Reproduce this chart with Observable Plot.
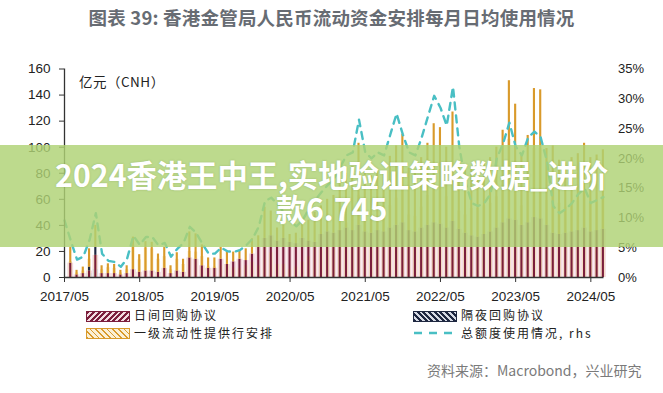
<!DOCTYPE html>
<html><head><meta charset="utf-8">
<script src="https://cdn.jsdelivr.net/npm/d3@7"></script>
<script src="https://cdn.jsdelivr.net/npm/@observablehq/plot@0.6"></script>
<style>
body{margin:0;background:#fff;}
#wrap{position:relative;width:663px;height:393px;overflow:hidden;background:#fff;}
#title{position:absolute;left:0;top:4px;width:663px;text-align:center;font:700 18.5px "Noto Sans CJK SC",sans-serif;color:#676c73;letter-spacing:0.2px;}
#chart{position:absolute;left:0;top:0;}
#unit{position:absolute;left:79px;top:71px;font:13.5px "Noto Sans CJK SC",sans-serif;color:#222;letter-spacing:0.5px;}
.lg{position:absolute;font:12px "Noto Sans CJK SC",sans-serif;color:#222;letter-spacing:2px;line-height:12px;height:12px;white-space:nowrap;}
.sw{position:absolute;width:42px;height:9px;}
#src{position:absolute;left:427px;top:360px;font:14px "Noto Sans CJK SC",sans-serif;color:#7a7a7a;white-space:nowrap;}
#banner{position:absolute;left:0;top:145px;width:663px;height:102px;background:rgba(174,210,116,0.82);}
#btext{position:absolute;left:-2px;top:157px;width:667px;text-align:center;font:700 30.3px "Noto Sans CJK SC",sans-serif;color:#fff;line-height:34px;text-shadow:0 0 2px rgba(90,120,50,0.35);}
</style></head>
<body><div id="wrap">
<div id="title">图表 39: 香港金管局人民币流动资金安排每月日均使用情况</div>
<div id="chart"></div>
<div id="unit">亿元（CNH）</div>
<div class="sw" style="left:86px;top:311px;background:repeating-linear-gradient(135deg,#7b1e3c 0 2px,#f3dbe0 2px 4px);border:1px solid #7b1e3c;"></div>
<div class="lg" style="left:134px;top:309px;">日间回购协议</div>
<div class="sw" style="left:413px;top:311px;background:repeating-linear-gradient(45deg,#1e2740 0 2px,#d6dae4 2px 4px);border:1px solid #1e2740;"></div>
<div class="lg" style="left:461px;top:309px;">隔夜回购协议</div>
<div class="sw" style="left:86px;top:328px;background:repeating-linear-gradient(45deg,#d99a2b 0 1px,#fbf0d6 1px 4px),#fbf0d6;border:1px solid #d99a2b;"></div>
<div class="lg" style="left:134px;top:327px;">一级流动性提供行安排</div>
<svg style="position:absolute;left:413px;top:328px" width="46" height="10"><line x1="1" y1="5" x2="45" y2="5" stroke="#49bfc4" stroke-width="2.5" stroke-dasharray="8,7"/></svg>
<div class="lg" style="left:461px;top:327px;">总额度使用情况, rhs</div>
<div id="src">资料来源：Macrobond，兴业研究</div>
<div id="banner"></div>
<div id="btext">2024香港王中王,实地验证策略数据_进阶<br>款6.745</div>
</div>
<script>
// month index 0 = 2017/05 ... 86 = 2024/07
const seriesNames = ["日间回购协议", "隔夜回购协议", "一级流动性提供行安排"];
const tickIdx = [0, 12, 24, 36, 48, 60, 72, 84];
const tickLabels = ["2017/05","2018/05","2019/05","2020/05","2021/05","2022/05","2023/05","2024/05"];
const leftTicks = [0, 20, 40, 60, 80, 100, 120, 140, 160];
const pctTicks = [0, 5, 10, 15, 20, 25, 30, 35];
const pctLabels = ["0%","5%","10%","15%","20%","25%","30%","35%"];

// 日间回购协议 (亿元)
const intraday = [0,11,2,3,5,17,3,3,3,2,3,6,4,5,5,4,7,3,5,4,15,14,9,7,7,14,10,12,14,13,18,23,30,32,28,30,27,26,30,28,27,33,35,34,36,38,36,40,35,34,36,35,38,40,42,36,35,38,40,42,41,38,43,37,34,32,31,33,35,38,42,45,44,40,42,46,45,40,34,33,34,35,36,38,35,36,37];
// 隔夜回购协议 (亿元)
const overnight = [0,0,0,0,3,6,0,0,0,0,0,0,0,0,0,0,0,0,0,0,0,0,0,0,0,0,0,0,0,0,0,0,0,0,0,0,0,0,0,0,0,0,0,0,0,0,0,0,0,0,0,0,0,0,0,0,0,0,0,0,0,0,0,0,0,0,0,0,0,0,0,0,0,0,0,0,0,0,0,0,0,0,0,0,0,0,0];
// 一级流动性提供行安排 (亿元)
const primary = [0,12,3.5,5,14,17,6,7.5,7,3.5,6,25,13.5,22.5,22,14,16,6,14,10,20,19.5,16,8,8,9,10,7.5,7,9,11.7,9,24,19,10,10,6,8,12,16,23,22,25,29,36,42,49,63,47,44,46,45,55,61,68,48,47,54,63,76,74,62,84,51,48,53,53,55,57,62,71,106,89,55,67,99,99,59,67,57,54,57,59,65,57,58,61];
// 总额度使用情况 (%, rhs)
const usagePct = [9.6,6.2,3.0,3.5,6.3,10.8,4.0,2.8,2.6,1.8,3.2,7.0,5.5,6.8,6.8,5.4,5.8,3.5,4.8,5.8,8.5,7.5,5.7,4.0,4.0,5.0,4.4,4.3,4.6,5.4,6.5,8.5,12.8,13.4,12.3,11.0,9.5,8.6,9.6,11.5,13.0,14.3,15.5,16.5,18.5,20.5,21.0,26.5,21.0,20.0,21.0,20.5,24.0,27.5,24.0,21.0,20.5,23.5,27.0,30.5,28.5,25.5,32.0,22.0,16.0,12.5,12.0,12.5,14.0,20.0,22.5,26.0,22.0,20.5,23.5,24.5,23.5,19.5,12.0,10.8,11.5,12.5,14.0,15.0,12.5,13.0,13.5];

const valuesBySeries = [intraday, overnight, primary];
const dark = {"日间回购协议": "#7b1e3c", "隔夜回购协议": "#1e2740", "一级流动性提供行安排": "#d99a2b"};
const light = {"日间回购协议": "#f3d8de", "隔夜回购协议": "#cfd3de", "一级流动性提供行安排": "#f7e3b4"};
const halfWide = {"日间回购协议": 0.46, "隔夜回购协议": 0.4, "一级流动性提供行安排": 0.26};

const table = [];
for (let i = 1; i < intraday.length; i++) {
  seriesNames.forEach((s, k) => table.push({i, s, v: valuesBySeries[k][i]}));
}
const lineData = usagePct.map((p, i) => ({i, p}));
const k = 160 / 35;

const plot = Plot.plot({
  width: 663, height: 310,
  marginLeft: 64, marginRight: 59.5, marginTop: 68.5, marginBottom: 33,
  style: {fontFamily: "Liberation Sans, Arial, sans-serif", fontSize: "13px", color: "#222", background: "transparent"},
  x: {type: "linear", domain: [0, 86.1], axis: null, label: null},
  y: {domain: [0, 160], axis: null, label: null},
  color: {type: "identity"},
  marks: [
    Plot.rectY(table, Plot.stackY({x1: d => d.i - halfWide[d.s], x2: d => d.i + halfWide[d.s], y: "v", z: "s", order: seriesNames, fill: d => light[d.s]})),
    Plot.rectY(table, Plot.stackY({x1: d => d.i - 0.17, x2: d => d.i + 0.17, y: "v", z: "s", order: seriesNames, fill: d => dark[d.s]})),
    Plot.line(lineData, {x: "i", y: d => d.p * k, stroke: "#49bfc4", strokeWidth: 2.4, strokeDasharray: "7,6"}),
    Plot.ruleX([0], {stroke: "#333", strokeWidth: 1.3}),
    Plot.ruleY([0], {stroke: "#333", strokeWidth: 1.3}),
    Plot.axisY(leftTicks, {anchor: "left", label: null, tickSize: 5, tickPadding: 9, stroke: "#333", fontSize: 13.5}),
    Plot.axisY(pctTicks.map(p => p * k), {anchor: "right", label: null, tickSize: 0, tickPadding: 14, fontSize: 13,
      tickFormat: d => pctLabels[pctTicks.findIndex(p => Math.abs(p * k - d) < 1e-6)]}),
    Plot.axisX(tickIdx, {anchor: "bottom", label: null, tickSize: 5, tickPadding: 9, stroke: "#333", fontSize: 13.5,
      tickFormat: d => tickLabels[tickIdx.indexOf(d)]})
  ]
});
document.getElementById("chart").appendChild(plot);
</script>
</body></html>
